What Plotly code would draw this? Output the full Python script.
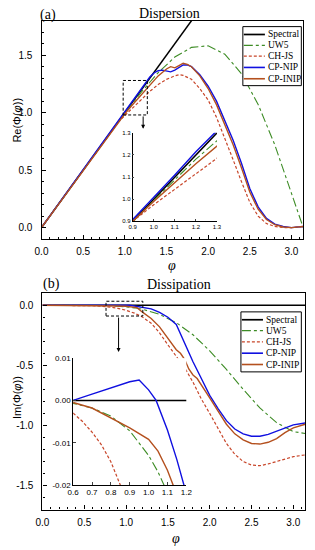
import plotly.graph_objects as go

# ---------------- data ----------------
names = ["Spectral", "UW5", "CH-JS", "CP-NIP", "CP-INIP"]
colors = ["#000000", "#3d8c25", "#c8462a", "#1010e0", "#b4501e"]
dashes = ["solid", "dashdot", "3px,2px", "solid", "solid"]
widths = [1.5, 1.1, 1.2, 1.4, 1.4]

# Panel (a) dispersion
re_spec_x = [0.0, 3.1416]
re_spec_y = [0.0, 3.1416]
re_uw5_x = [0.0, 0.2, 0.4, 0.6, 0.8, 1.0, 1.2, 1.4, 1.6, 1.8, 2.0, 2.2, 2.4, 2.6, 2.8, 3.0, 3.1416]
re_uw5_y = [0.0, 0.200, 0.400, 0.600, 0.799, 0.994, 1.181, 1.348, 1.484, 1.568, 1.582, 1.509, 1.339, 1.072, 0.720, 0.309, 0.0]
re_chjs_x = [0.0, 0.9, 1.0, 1.1, 1.2, 1.3, 1.4, 1.5, 1.6, 1.65, 1.7, 1.8, 1.9, 2.0, 2.1, 2.2, 2.3, 2.4, 2.5, 2.6, 2.7, 2.8, 2.9, 3.0, 3.1416]
re_chjs_y = [0.0, 0.9, 0.975, 1.045, 1.115, 1.185, 1.245, 1.29, 1.32, 1.33, 1.325, 1.29, 1.21, 1.11, 0.96, 0.78, 0.59, 0.40, 0.22, 0.10, 0.035, 0.01, 0.0, 0.0, 0.01]
re_nip_x = [0.0, 1.0, 1.1, 1.2, 1.3, 1.35, 1.4, 1.45, 1.5, 1.55, 1.6, 1.65, 1.7, 1.75, 1.8, 1.9, 2.0, 2.1, 2.2, 2.3, 2.4, 2.5, 2.6, 2.7, 2.8, 2.9, 3.0, 3.1416]
re_nip_y = [0.0, 1.005, 1.11, 1.215, 1.31, 1.345, 1.365, 1.37, 1.365, 1.355, 1.37, 1.395, 1.415, 1.415, 1.40, 1.33, 1.23, 1.10, 0.93, 0.76, 0.56, 0.34, 0.18, 0.08, 0.03, 0.01, 0.0, 0.01]
re_inip_x = [0.0, 0.9, 1.0, 1.1, 1.2, 1.3, 1.4, 1.45, 1.5, 1.55, 1.6, 1.65, 1.7, 1.75, 1.8, 1.9, 2.0, 2.1, 2.2, 2.3, 2.4, 2.5, 2.6, 2.7, 2.8, 2.9, 3.0, 3.1416]
re_inip_y = [0.0, 0.9, 0.99, 1.075, 1.16, 1.24, 1.32, 1.35, 1.38, 1.40, 1.39, 1.41, 1.43, 1.42, 1.40, 1.32, 1.21, 1.07, 0.90, 0.72, 0.52, 0.31, 0.16, 0.07, 0.025, 0.005, 0.0, 0.01]

# Panel (b) dissipation
im_spec_x = [0.0, 3.1416]
im_spec_y = [0.0, 0.0]
im_uw5_x = [0.0, 0.2, 0.4, 0.6, 0.7, 0.8, 0.9, 1.0, 1.05, 1.1, 1.2, 1.4, 1.6, 1.8, 2.0, 2.2, 2.4, 2.6, 2.8, 3.0, 3.1416]
im_uw5_y = [0.0, 0.0, -0.0001, -0.0007, -0.0018, -0.0037, -0.0072, -0.013, -0.0169, -0.0218, -0.0346, -0.0762, -0.145, -0.246, -0.379, -0.534, -0.699, -0.854, -0.977, -1.051, -1.067]
im_chjs_x = [0.0, 0.4, 0.5, 0.6, 0.65, 0.7, 0.75, 0.8, 0.85, 0.9, 1.0, 1.1, 1.2, 1.3, 1.4, 1.5, 1.6, 1.7, 1.8, 1.9, 2.0, 2.1, 2.2, 2.3, 2.4, 2.5, 2.6, 2.7, 2.8, 2.9, 3.0, 3.1416]
im_chjs_y = [0.0, -0.0003, -0.0012, -0.003, -0.005, -0.0075, -0.0105, -0.0145, -0.02, -0.026, -0.042, -0.066, -0.10, -0.15, -0.23, -0.33, -0.42, -0.52, -0.64, -0.78, -0.90, -1.03, -1.15, -1.24, -1.30, -1.33, -1.335, -1.32, -1.30, -1.28, -1.26, -1.245]
im_nip_x = [0.0, 0.6, 0.7, 0.8, 0.9, 0.95, 1.0, 1.04, 1.1, 1.15, 1.2, 1.3, 1.4, 1.5, 1.6, 1.7, 1.8, 1.9, 2.0, 2.1, 2.2, 2.3, 2.4, 2.5, 2.6, 2.7, 2.8, 2.9, 3.0, 3.1416]
im_nip_y = [0.0, 0.0, 0.0015, 0.0029, 0.0044, 0.0048, 0.0025, 0.0, -0.007, -0.014, -0.022, -0.03, -0.06, -0.10, -0.16, -0.32, -0.47, -0.61, -0.75, -0.86, -0.96, -1.03, -1.07, -1.09, -1.09, -1.075, -1.05, -1.02, -0.995, -0.98]
im_inip_x = [0.0, 0.6, 0.7, 0.8, 0.9, 1.0, 1.05, 1.1, 1.13, 1.2, 1.3, 1.4, 1.5, 1.55, 1.6, 1.65, 1.7, 1.75, 1.8, 1.85, 1.9, 2.0, 2.1, 2.2, 2.3, 2.4, 2.5, 2.6, 2.7, 2.8, 2.9, 3.0, 3.1416]
im_inip_y = [0.0, -0.0005, -0.0018, -0.0042, -0.0065, -0.0092, -0.012, -0.0165, -0.02, -0.06, -0.11, -0.18, -0.27, -0.32, -0.37, -0.40, -0.45, -0.53, -0.58, -0.61, -0.66, -0.77, -0.88, -0.99, -1.07, -1.12, -1.15, -1.155, -1.14, -1.11, -1.06, -1.02, -0.99]

# ticks
main_x_ticks = [0.0, 0.5, 1.0, 1.5, 2.0, 2.5, 3.0]
re_ticks = [0.0, 0.5, 1.0, 1.5]
im_ticks = [0.0, -0.5, -1.0, -1.5]
ins_a_ticks = [0.9, 1.0, 1.1, 1.2, 1.3]
ins_b_xticks = [0.6, 0.7, 0.8, 0.9, 1.0, 1.1, 1.2]
ins_b_yticks = [-0.02, -0.01, 0.0, 0.01]

re_sets = [(re_spec_x, re_spec_y), (re_uw5_x, re_uw5_y), (re_chjs_x, re_chjs_y), (re_nip_x, re_nip_y), (re_inip_x, re_inip_y)]
im_sets = [(im_spec_x, im_spec_y), (im_uw5_x, im_uw5_y), (im_chjs_x, im_chjs_y), (im_nip_x, im_nip_y), (im_inip_x, im_inip_y)]

W, H = 315, 550
def px(x):
    return x / W
def py(y):
    return 1 - y / H

SANS = "Liberation Sans, Arial, sans-serif"
SERIF = "Liberation Serif, Times New Roman, serif"

fig = go.Figure()
for (xs, ys), nm, c, d, w in zip(re_sets, names, colors, dashes, widths):
    for ax in [("x", "y"), ("x3", "y3")]:
        fig.add_trace(go.Scatter(x=xs, y=ys, mode="lines", name=nm, showlegend=False,
                                 line=dict(color=c, dash=d, width=w), xaxis=ax[0], yaxis=ax[1]))
for (xs, ys), nm, c, d, w in zip(im_sets, names, colors, dashes, widths):
    for ax in [("x2", "y2"), ("x4", "y4")]:
        fig.add_trace(go.Scatter(x=xs, y=ys, mode="lines", name=nm, showlegend=False,
                                 line=dict(color=c, dash=d, width=w), xaxis=ax[0], yaxis=ax[1]))

axis_common = dict(showline=True, linecolor="black", linewidth=1.2, mirror=True,
                   ticks="inside", ticklen=4, tickwidth=1, tickcolor="black",
                   showgrid=False, zeroline=False,
                   tickfont=dict(family=SANS, size=10, color="black"))
minor = dict(ticks="inside", ticklen=2, tickcolor="black", showgrid=False)

fig.update_layout(
    width=W, height=H, margin=dict(l=0, r=0, t=0, b=0),
    paper_bgcolor="white", plot_bgcolor="white", showlegend=False,
    xaxis=dict(domain=[px(36), px(309)], range=[0, 3.1416], anchor="y",
               tickvals=main_x_ticks, ticktext=["%.1f" % v for v in main_x_ticks],
               minor=dict(dtick=0.1, **minor), ticklabelstandoff=3, **axis_common),
    yaxis=dict(domain=[py(239), py(17)], range=[-0.1, 1.8], anchor="x",
               tickvals=re_ticks, ticktext=["%.1f" % v for v in re_ticks],
               minor=dict(dtick=0.1, **minor), ticklabelstandoff=6, **axis_common),
    xaxis2=dict(domain=[px(37), px(311)], range=[0, 3.1416], anchor="y2",
                tickvals=main_x_ticks, ticktext=["%.1f" % v for v in main_x_ticks],
                minor=dict(dtick=0.1, **minor), ticklabelstandoff=3, **axis_common),
    yaxis2=dict(domain=[py(514), py(294)], range=[-1.7, 0.1], anchor="x2",
                tickvals=im_ticks, ticktext=["%.1f" % v for v in im_ticks],
                minor=dict(dtick=0.1, **minor), ticklabelstandoff=6, **axis_common),
    xaxis3=dict(domain=[px(131), px(219)], range=[0.9, 1.3], anchor="y3",
                showline=True, linecolor="black", linewidth=0.8, ticks="inside", ticklen=2,
                tickvals=ins_a_ticks, ticktext=["%.1f" % v for v in ins_a_ticks],
                showgrid=False, zeroline=False, tickfont=dict(family=SANS, size=6, color="black")),
    yaxis3=dict(domain=[py(221), py(131)], range=[0.9, 1.3], anchor="x3",
                showline=True, linecolor="black", linewidth=0.8, ticks="inside", ticklen=2,
                tickvals=ins_a_ticks, ticktext=["%.1f" % v for v in ins_a_ticks],
                showgrid=False, zeroline=False, tickfont=dict(family=SANS, size=6, color="black")),
    xaxis4=dict(domain=[px(69), px(187)], range=[0.6, 1.2], anchor="y4",
                showline=True, linecolor="black", linewidth=0.8, ticks="inside", ticklen=3,
                tickvals=ins_b_xticks, ticktext=["%.1f" % v for v in ins_b_xticks],
                showgrid=False, zeroline=False, tickfont=dict(family=SANS, size=8, color="black")),
    yaxis4=dict(domain=[py(489), py(360)], range=[-0.02, 0.01], anchor="x4",
                showline=True, linecolor="black", linewidth=0.8, ticks="inside", ticklen=3,
                tickvals=ins_b_yticks, ticktext=["%.2f" % v for v in ins_b_yticks],
                showgrid=False, zeroline=False, tickfont=dict(family=SANS, size=8, color="black")),
)

# zoom boxes and arrows (data coordinates)
fig.add_shape(type="rect", xref="x", yref="y", x0=0.98, x1=1.27, y0=0.98, y1=1.28,
              line=dict(color="black", width=1, dash="3px,2px"))
fig.add_annotation(xref="x", yref="y", axref="x", ayref="y", x=1.22, y=0.86, ax=1.22, ay=0.98,
                   text="", showarrow=True, arrowhead=2, arrowsize=0.8, arrowwidth=1, arrowcolor="black")
fig.add_shape(type="rect", xref="x2", yref="y2", x0=0.76, x1=1.2, y0=-0.09, y1=0.033,
              line=dict(color="black", width=1, dash="3px,2px"))
fig.add_annotation(xref="x2", yref="y2", axref="x2", ayref="y2", x=0.91, y=-0.39, ax=0.91, ay=-0.09,
                   text="", showarrow=True, arrowhead=2, arrowsize=0.8, arrowwidth=1, arrowcolor="black")

# legends (drawn as guides)
def legend_box(x0, x1, y0, y1, rows):
    fig.add_shape(type="rect", xref="paper", yref="paper", x0=px(x0), x1=px(x1), y0=py(y1), y1=py(y0),
                  line=dict(color="black", width=1), fillcolor="white", layer="above")
    for yy, nm, c, d, w in zip(rows, names, colors, dashes, widths):
        fig.add_shape(type="line", xref="paper", yref="paper", x0=px(x0 + 1), x1=px(x0 + 23), y0=py(yy), y1=py(yy),
                      line=dict(color=c, dash=d, width=w + 0.2), layer="above")
        fig.add_annotation(xref="paper", yref="paper", x=px(x0 + 24), y=py(yy), text=nm, showarrow=False,
                           xanchor="left", yanchor="middle", font=dict(family=SERIF, size=9.5, color="black"))

legend_box(246, 307, 23, 83, [31, 42, 53, 64.5, 76])
legend_box(244, 307, 313, 374, [321, 332, 343.5, 355, 366.5])

# titles and axis labels
txt = [
    ("(a)", 43, 11, SERIF, 14, 0), ("Dispersion", 169, 10, SERIF, 14, 0),
    ("(b)", 46, 285, SERIF, 14, 0), ("Dissipation", 179, 285, SERIF, 14, 0),
    ("<i>φ</i>", 172, 266, SERIF, 14, 0), ("<i>φ</i>", 176, 543, SERIF, 14, 0),
    ("Re(Φ(<i>φ</i>))", 11, 118, SANS, 11, -90), ("Im(Φ(<i>φ</i>))", 11, 400, SANS, 11, -90),
]
for t, x, y, f, s, ang in txt:
    fig.add_annotation(xref="paper", yref="paper", x=px(x), y=py(y), text=t, showarrow=False,
                       textangle=ang, xanchor="center", yanchor="middle",
                       font=dict(family=f, size=s, color="black"))

fig.write_html("out.html", config={"displayModeBar": False},
               post_script="document.body.style.margin='0';document.body.style.overflow='hidden';")
